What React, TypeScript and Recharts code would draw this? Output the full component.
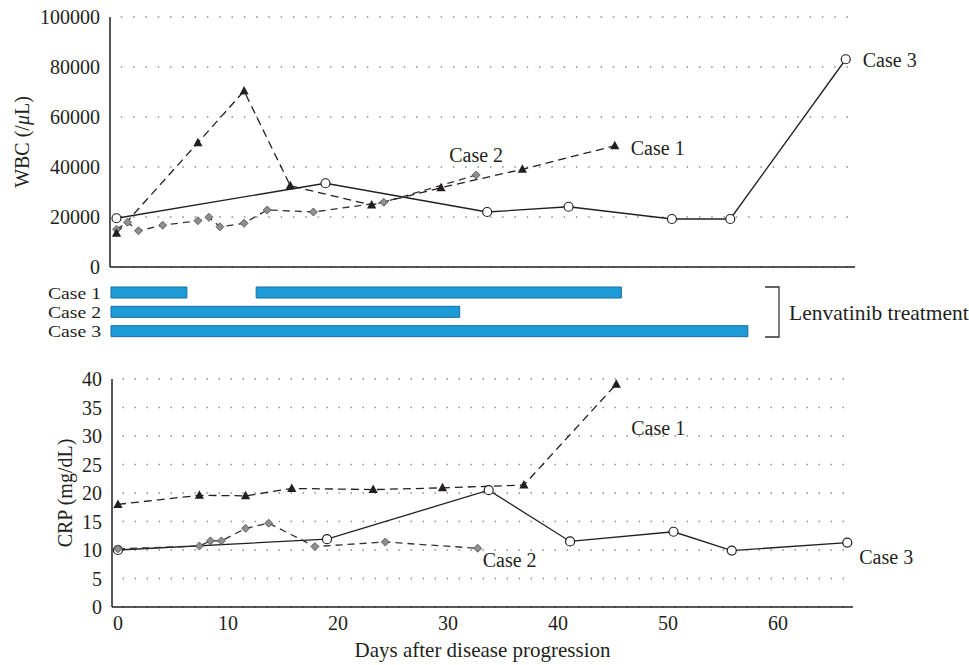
import React from "react";
import {
  LineChart,
  Line,
  BarChart,
  Bar,
  CartesianGrid,
  XAxis,
  YAxis,
  LabelList,
} from "recharts";

const FONT = "Liberation Serif, Times New Roman, DejaVu Serif, serif";
const INK = "#231f20";

// days after disease progression, per case
const case1Days = [0, 7.4, 11.6, 15.8, 23.2, 29.5, 36.9, 45.3];
const case1Wbc = [13500, 49700, 70400, 32500, 24800, 31700, 39100, 48500];
const case1Crp = [18.0, 19.6, 19.5, 20.8, 20.6, 20.9, 21.4, 39.1];

const case2WbcDays = [0, 1.0, 2.0, 4.2, 7.4, 8.4, 9.4, 11.6, 13.7, 17.9, 24.3, 32.7];
const case2Wbc = [15100, 17900, 14500, 16700, 18500, 19900, 16100, 17500, 22800, 22000, 25900, 36800];
const case2CrpDays = [0, 7.4, 8.4, 9.4, 11.6, 13.7, 17.9, 24.3, 32.7];
const case2Crp = [10.2, 10.7, 11.6, 11.6, 13.8, 14.7, 10.6, 11.4, 10.3];

const case3Days = [0, 19.0, 33.7, 41.1, 50.5, 55.8, 66.3];
const case3Wbc = [19500, 33500, 22000, 24100, 19200, 19200, 83100];
const case3Crp = [10.0, 11.9, 20.5, 11.5, 13.2, 9.9, 11.3];

// lenvatinib treatment periods (days)
const treatmentCases = ["Case 1", "Case 2", "Case 3"];
const treatmentFirst: [number, number][] = [[-0.5, 6.4], [-0.5, 31.2], [-0.5, 57.4]];
const treatmentSecond: ([number, number] | null)[] = [[12.7, 45.9], null, null];

const wbcTicks = [0, 20000, 40000, 60000, 80000, 100000];
const crpTicks = [0, 5, 10, 15, 20, 25, 30, 35, 40];
const dayTicks = [0, 10, 20, 30, 40, 50, 60];

const zip = (days: number[], values: number[]) =>
  days.map((day, i) => ({ day, value: values[i] }));

const treatmentData = treatmentCases.map((name, i) => ({
  name,
  first: treatmentFirst[i],
  second: treatmentSecond[i],
}));

const tickStyle = { fill: INK, fontSize: 20, fontFamily: FONT };
const axisLine = { stroke: INK, strokeWidth: 1.5 };

function TriangleDot({ cx, cy }: any) {
  if (cx == null || cy == null) return null;
  return (
    <path
      d={`M${cx},${cy - 5} L${cx + 4.6},${cy + 3.5} L${cx - 4.6},${cy + 3.5} Z`}
      fill={INK}
    />
  );
}

function DiamondDot({ cx, cy }: any) {
  if (cx == null || cy == null) return null;
  return (
    <path
      d={`M${cx},${cy - 4} L${cx + 4},${cy} L${cx},${cy + 4} L${cx - 4},${cy} Z`}
      fill="#8e8e8e"
      stroke="#4d4d4d"
      strokeWidth={0.8}
    />
  );
}

function CircleDot({ cx, cy }: any) {
  if (cx == null || cy == null) return null;
  return <circle cx={cx} cy={cy} r={4.5} fill="#fff" stroke={INK} strokeWidth={1.2} />;
}

// tight row labels for the treatment bars (rows are only ~19px apart)
function CaseTick({ x, y, payload }: any) {
  return (
    <text
      x={x}
      y={y}
      textAnchor="end"
      dominantBaseline="central"
      fill={INK}
      fontSize={17.5}
      textLength={53}
      lengthAdjust="spacingAndGlyphs"
      style={{ fontFamily: FONT }}
    >
      {payload.value}
    </text>
  );
}

// label drawn next to the last point of a series
function caseLabel(text: string, last: number, dx: number, dy: number, anchor = "start") {
  return (props: any) => {
    if (props.index !== last) return null;
    return (
      <text
        x={props.x + dx}
        y={props.y + dy}
        textAnchor={anchor}
        dominantBaseline="central"
        fill={INK}
        fontSize={20}
        style={{ fontFamily: FONT }}
      >
        {text}
      </text>
    );
  };
}

function VerticalTitle({ viewBox, x, children }: any) {
  const cy = viewBox.y + viewBox.height / 2;
  return (
    <text
      x={x}
      y={cy}
      transform={`rotate(-90, ${x}, ${cy})`}
      textAnchor="middle"
      dominantBaseline="central"
      fill={INK}
      fontSize={20}
      style={{ fontFamily: FONT }}
    >
      {children}
    </text>
  );
}

export default function App() {
  return (
    <div
      style={{
        position: "absolute",
        left: 0,
        top: 0,
        width: 969,
        height: 665,
        background: "#fff",
        fontFamily: FONT,
      }}
    >
      {/* WBC */}
      <div style={{ position: "absolute", left: 0, top: 0 }}>
        <LineChart width={969} height={280} margin={{ top: 17, right: 114, bottom: 12, left: 0 }}>
          <CartesianGrid
            vertical={false}
            stroke="#8c8c8c"
            strokeWidth={1.4}
            strokeDasharray="0 10.8 1.5 0"
          />
          <XAxis
            type="number"
            dataKey="day"
            domain={[-0.59, 67.14]}
            height={1}
            tick={false}
            tickLine={false}
            axisLine={axisLine}
          />
          <YAxis
            type="number"
            domain={[0, 100000]}
            ticks={wbcTicks}
            width={110}
            tick={tickStyle}
            tickLine={false}
            tickSize={6}
            tickMargin={4}
            axisLine={axisLine}
            label={(p: any) => (
              <VerticalTitle viewBox={p.viewBox} x={22}>
                WBC (/<tspan fontStyle="italic">μ</tspan>L)
              </VerticalTitle>
            )}
          />
          <Line
            data={zip(case3Days, case3Wbc)}
            dataKey="value"
            stroke={INK}
            strokeWidth={1.3}
            dot={(p: any) => <CircleDot key={p.index} {...p} />}
            isAnimationActive={false}
          >
            <LabelList dataKey="value" content={caseLabel("Case 3", case3Days.length - 1, 17, 1)} />
          </Line>
          <Line
            data={zip(case2WbcDays, case2Wbc)}
            dataKey="value"
            stroke="#333"
            strokeWidth={1.3}
            strokeDasharray="7 5"
            dot={(p: any) => <DiamondDot key={p.index} {...p} />}
            isAnimationActive={false}
          >
            <LabelList
              dataKey="value"
              content={caseLabel("Case 2", case2WbcDays.length - 1, 0, -20, "middle")}
            />
          </Line>
          <Line
            data={zip(case1Days, case1Wbc)}
            dataKey="value"
            stroke={INK}
            strokeWidth={1.3}
            strokeDasharray="8 5"
            dot={(p: any) => <TriangleDot key={p.index} {...p} />}
            isAnimationActive={false}
          >
            <LabelList dataKey="value" content={caseLabel("Case 1", case1Days.length - 1, 16, 2)} />
          </Line>
        </LineChart>
      </div>

      {/* Lenvatinib treatment periods */}
      <div style={{ position: "absolute", left: 0, top: 283 }}>
        <BarChart
          width={969}
          height={58}
          layout="vertical"
          data={treatmentData}
          margin={{ top: 0, right: 114, bottom: 0, left: 0 }}
          barGap={-11}
        >
          <XAxis type="number" domain={[-0.59, 67.14]} hide />
          <YAxis
            type="category"
            dataKey="name"
            width={110}
            interval={0}
            tick={<CaseTick />}
            tickLine={false}
            tickSize={6}
            tickMargin={3}
            axisLine={false}
          />
          <Bar
            dataKey="first"
            barSize={11}
            fill="#1d9bd7"
            stroke="#1a6d9e"
            strokeWidth={1}
            isAnimationActive={false}
          />
          <Bar
            dataKey="second"
            barSize={11}
            fill="#1d9bd7"
            stroke="#1a6d9e"
            strokeWidth={1}
            isAnimationActive={false}
          />
        </BarChart>
      </div>
      <svg
        width={969}
        height={80}
        style={{ position: "absolute", left: 0, top: 275 }}
      >
        <path d="M765,12 H779 V62 H765" fill="none" stroke="#333" strokeWidth={1.3} />
        <text
          x={789}
          y={38}
          dominantBaseline="central"
          fill={INK}
          fontSize={21.5}
          style={{ fontFamily: FONT }}
        >
          Lenvatinib treatment
        </text>
      </svg>

      {/* CRP */}
      <div style={{ position: "absolute", left: 0, top: 360 }}>
        <LineChart width={969} height={305} margin={{ top: 19, right: 116, bottom: 0, left: 0 }}>
          <CartesianGrid
            vertical={false}
            stroke="#8c8c8c"
            strokeWidth={1.4}
            strokeDasharray="0 10.5 1.5 0"
          />
          <XAxis
            type="number"
            dataKey="day"
            domain={[-0.545, 66.82]}
            ticks={dayTicks}
            height={58}
            tick={tickStyle}
            tickLine={false}
            tickSize={6}
            tickMargin={3}
            axisLine={axisLine}
            label={(p: any) => (
              <text
                x={p.viewBox.x + p.viewBox.width / 2}
                y={297}
                textAnchor="middle"
                fill={INK}
                fontSize={21}
                style={{ fontFamily: FONT }}
              >
                Days after disease progression
              </text>
            )}
          />
          <YAxis
            type="number"
            domain={[0, 40]}
            ticks={crpTicks}
            width={112}
            tick={tickStyle}
            tickLine={false}
            tickSize={6}
            tickMargin={4}
            axisLine={axisLine}
            label={(p: any) => (
              <VerticalTitle viewBox={p.viewBox} x={65}>
                CRP (mg/dL)
              </VerticalTitle>
            )}
          />
          <Line
            data={zip(case3Days, case3Crp)}
            dataKey="value"
            stroke={INK}
            strokeWidth={1.3}
            dot={(p: any) => <CircleDot key={p.index} {...p} />}
            isAnimationActive={false}
          >
            <LabelList dataKey="value" content={caseLabel("Case 3", case3Days.length - 1, 12, 14)} />
          </Line>
          <Line
            data={zip(case2CrpDays, case2Crp)}
            dataKey="value"
            stroke="#333"
            strokeWidth={1.3}
            strokeDasharray="7 5"
            dot={(p: any) => <DiamondDot key={p.index} {...p} />}
            isAnimationActive={false}
          >
            <LabelList dataKey="value" content={caseLabel("Case 2", case2CrpDays.length - 1, 5, 12)} />
          </Line>
          <Line
            data={zip(case1Days, case1Crp)}
            dataKey="value"
            stroke={INK}
            strokeWidth={1.3}
            strokeDasharray="8 5"
            dot={(p: any) => <TriangleDot key={p.index} {...p} />}
            isAnimationActive={false}
          >
            <LabelList dataKey="value" content={caseLabel("Case 1", case1Days.length - 1, 15, 44)} />
          </Line>
        </LineChart>
      </div>
    </div>
  );
}
